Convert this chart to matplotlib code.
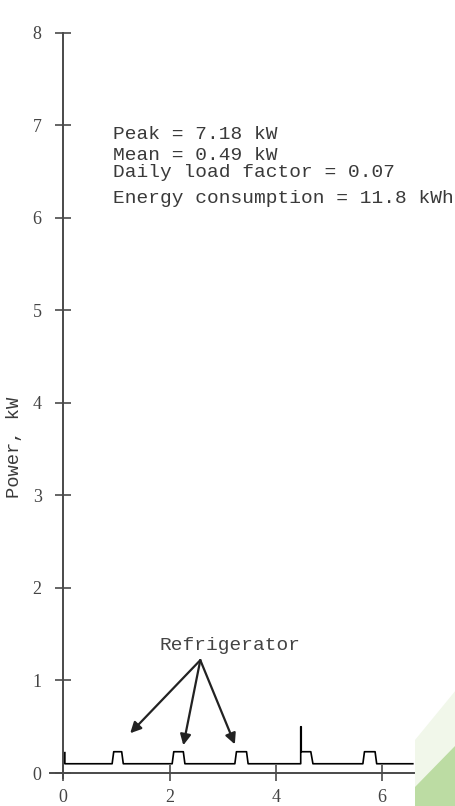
import matplotlib.pyplot as plt
from matplotlib.patches import Polygon

# Load profile (time in hours, power in kW)
time_h = [0.03, 0.03, 0.92, 0.95, 1.10, 1.13, 2.05, 2.08, 2.26, 2.29,
          3.23, 3.26, 3.45, 3.48, 4.47, 4.47, 4.48, 4.48, 4.66, 4.70,
          5.64, 5.67, 5.87, 5.90, 6.58]
power_kw = [0.22, 0.10, 0.10, 0.23, 0.23, 0.10, 0.10, 0.23, 0.23, 0.10,
            0.10, 0.23, 0.23, 0.10, 0.10, 0.50, 0.50, 0.23, 0.23, 0.10,
            0.10, 0.23, 0.23, 0.10, 0.10]

x_ticks = [0, 2, 4, 6]
y_ticks = [0, 1, 2, 3, 4, 5, 6, 7, 8]

stats_lines = ["Peak = 7.18 kW", "Mean = 0.49 kW",
               "Daily load factor = 0.07", "Energy consumption = 11.8 kWh"]
stats_y = [6.90, 6.68, 6.49, 6.21]

fridge_label = "Refrigerator"
fridge_label_pos = (3.14, 1.38)
arrow_start = (2.58, 1.22)
arrow_tips = [(1.26, 0.43), (2.26, 0.30), (3.23, 0.31)]

serif = ['Liberation Serif', 'DejaVu Serif']
mono = ['Liberation Mono', 'DejaVu Sans Mono']
axis_col = '#4a4a4a'

fig = plt.figure(figsize=(4.56, 8.06), dpi=100)
ax = fig.add_axes([0.1096, 0.0352, 0.798, 0.924])

ax.plot(time_h, power_kw, color='black', lw=1.2)

ax.set_xlim(-0.25, 6.6)
ax.set_ylim(-0.05, 8.0)
ax.spines['left'].set_position(('data', 0))
ax.spines['bottom'].set_position(('data', 0))
ax.spines['top'].set_visible(False)
ax.spines['right'].set_visible(False)
for s in ['left', 'bottom']:
    ax.spines[s].set_color(axis_col)
    ax.spines[s].set_linewidth(1.4)

ax.set_xticks(x_ticks)
ax.set_yticks(y_ticks)
ax.tick_params(axis='both', direction='inout', length=11, width=1.2,
               colors=axis_col, labelsize=13)
ax.tick_params(axis='y', pad=10)
ax.tick_params(axis='x', pad=6)
for lab in ax.get_xticklabels() + ax.get_yticklabels():
    lab.set_family(serif)
    lab.set_color('#444444')

ax.set_ylabel("Power, kW", family=mono, fontsize=13.5, color='#3a3a3a')
ax.yaxis.set_label_coords(-0.075, 0.444)

for line, y in zip(stats_lines, stats_y):
    ax.text(0.93, y, line, family=mono, fontsize=14, color='#3a3a3a',
            va='center', ha='left')

ax.text(fridge_label_pos[0], fridge_label_pos[1], fridge_label, family=mono,
        fontsize=14, color='#444444', ha='center', va='center')
for tip in arrow_tips:
    ax.annotate("", xy=tip, xytext=arrow_start,
                arrowprops=dict(arrowstyle='-|>', color='#222222', lw=1.6,
                                mutation_scale=16, shrinkA=0, shrinkB=0))

# faint green corner decoration seen in the scan
W, H = 456, 806
fig.patches.append(Polygon([[415 / W, 0], [415 / W, (H - 740) / H],
                            [1, (H - 690) / H], [1, 0]], closed=True,
                           transform=fig.transFigure, facecolor='#f1f7ea',
                           edgecolor='none', zorder=0))
fig.patches.append(Polygon([[415 / W, 0], [415 / W, (H - 787) / H],
                            [1, (H - 745) / H], [1, 0]], closed=True,
                           transform=fig.transFigure, facecolor='#bcdca3',
                           edgecolor='none', zorder=0))

plt.savefig('out.png', dpi=100)
